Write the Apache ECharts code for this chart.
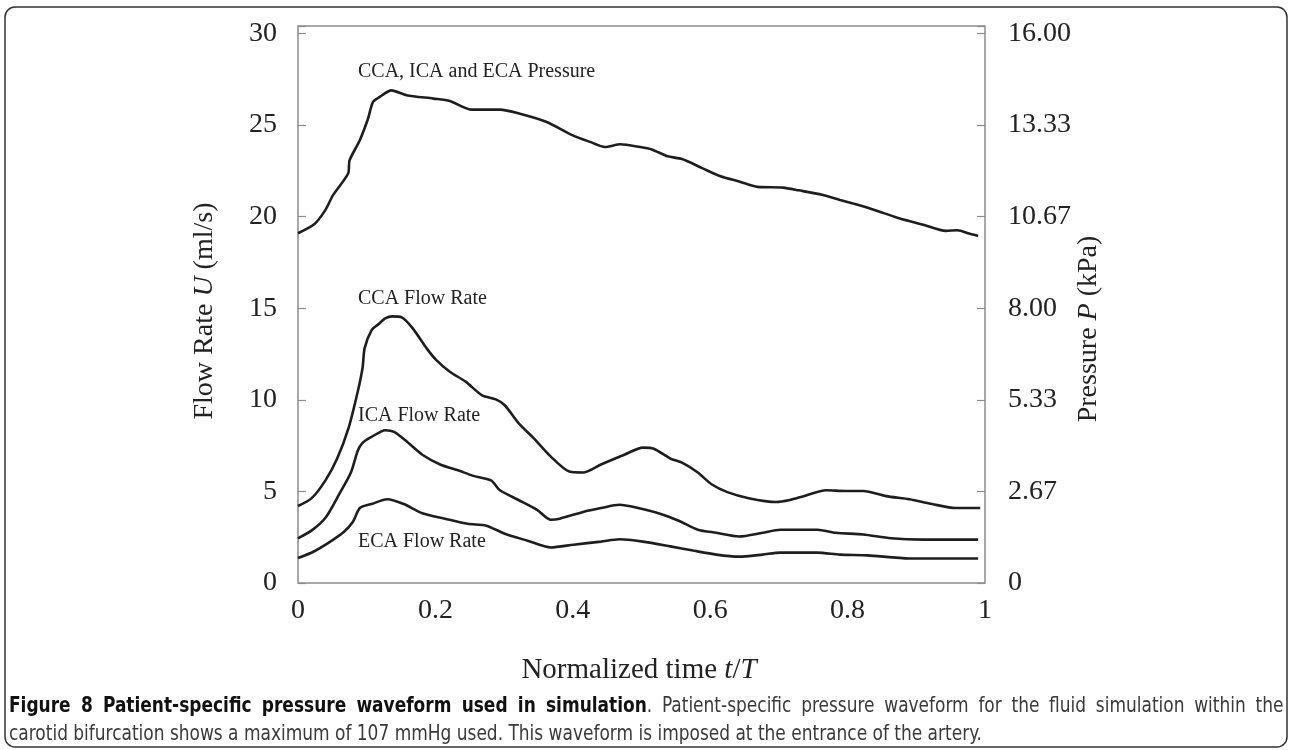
<!DOCTYPE html>
<html>
<head>
<meta charset="utf-8">
<script src="https://cdn.jsdelivr.net/npm/echarts@6/dist/echarts.min.js"></script>
<style>
  body { margin: 0; background: #fff; }
  #chart { width: 1292px; height: 750px; }
  .caption {
    position: absolute; left: 9px; width: 1416px; top: 691px;
    transform: scaleX(0.9); transform-origin: left top;
    font-family: 'Liberation Sans Narrow', 'DejaVu Sans Condensed', 'Open Sans', sans-serif;
    font-size: 21px; line-height: 28px; color: #3a3a3a;
  }
  .caption .l1 { text-align: justify; text-align-last: justify; }
  .caption b { color: #111; }
</style>
</head>
<body>
<div id="chart"></div>
<div class="caption">
  <div class="l1"><b>Figure 8 Patient-specific pressure waveform used in simulation</b>. Patient-specific pressure waveform for the fluid simulation within the</div>
  <div>carotid bifurcation shows a maximum of 107 mmHg used. This waveform is imposed at the entrance of the artery.</div>
</div>
<script>
  // normalized time t/T and values
  const timeP = [0, 0.024, 0.04, 0.051, 0.073, 0.075, 0.09, 0.102, 0.109, 0.119, 0.136, 0.158, 0.197, 0.221, 0.252, 0.294, 0.323, 0.362, 0.40, 0.425, 0.447, 0.469, 0.498, 0.515, 0.538, 0.559, 0.589, 0.615, 0.642, 0.669, 0.706, 0.729, 0.763, 0.789, 0.816, 0.839, 0.876, 0.91, 0.943, 0.96, 0.977, 0.99]
  const pressureKPa = [10.18, 10.45, 10.86, 11.29, 11.92, 12.30, 12.89, 13.52, 14.00, 14.15, 14.34, 14.20, 14.10, 14.03, 13.78, 13.78, 13.66, 13.42, 13.03, 12.84, 12.69, 12.77, 12.69, 12.62, 12.42, 12.34, 12.07, 11.84, 11.69, 11.53, 11.51, 11.43, 11.30, 11.15, 11.00, 10.86, 10.61, 10.43, 10.25, 10.27, 10.17, 10.10]

  const timeCCA = [0, 0.02, 0.04, 0.057, 0.074, 0.087, 0.094, 0.097, 0.107, 0.117, 0.127, 0.137, 0.151, 0.167, 0.187, 0.201, 0.221, 0.244, 0.268, 0.288, 0.301, 0.321, 0.344, 0.368, 0.395, 0.415, 0.441, 0.475, 0.502, 0.518, 0.542, 0.559, 0.582, 0.602, 0.625, 0.656, 0.696, 0.716, 0.736, 0.769, 0.796, 0.823, 0.856, 0.89, 0.923, 0.957, 0.993]
  const ccaFlow = [4.20, 4.63, 5.60, 6.79, 8.51, 10.45, 11.75, 12.82, 13.79, 14.12, 14.44, 14.55, 14.50, 13.90, 12.82, 12.18, 11.53, 10.99, 10.24, 10.02, 9.70, 8.73, 7.87, 6.90, 6.08, 6.03, 6.47, 7.00, 7.39, 7.33, 6.79, 6.57, 6.03, 5.39, 4.96, 4.63, 4.42, 4.53, 4.74, 5.06, 5.02, 5.02, 4.74, 4.57, 4.31, 4.09, 4.09]

  const timeICA = [0, 0.02, 0.04, 0.06, 0.077, 0.087, 0.094, 0.107, 0.127, 0.14, 0.157, 0.181, 0.207, 0.234, 0.254, 0.281, 0.294, 0.321, 0.348, 0.368, 0.381, 0.415, 0.441, 0.468, 0.495, 0.528, 0.555, 0.582, 0.609, 0.642, 0.676, 0.702, 0.756, 0.783, 0.823, 0.863, 0.91, 0.99]
  const icaFlow = [2.44, 2.87, 3.56, 4.85, 6.03, 7.22, 7.65, 7.97, 8.34, 8.25, 7.76, 7.00, 6.47, 6.14, 5.86, 5.60, 5.06, 4.53, 3.99, 3.45, 3.51, 3.88, 4.09, 4.27, 4.09, 3.77, 3.38, 2.91, 2.74, 2.54, 2.74, 2.91, 2.91, 2.74, 2.65, 2.44, 2.37, 2.37]

  const timeECA = [0, 0.023, 0.047, 0.067, 0.08, 0.09, 0.107, 0.13, 0.154, 0.181, 0.214, 0.247, 0.274, 0.301, 0.334, 0.368, 0.401, 0.441, 0.468, 0.502, 0.542, 0.575, 0.609, 0.642, 0.676, 0.702, 0.756, 0.789, 0.829, 0.89, 0.99]
  const ecaFlow = [1.36, 1.72, 2.26, 2.80, 3.34, 4.09, 4.31, 4.57, 4.31, 3.81, 3.51, 3.23, 3.13, 2.69, 2.31, 1.94, 2.09, 2.26, 2.39, 2.26, 2.00, 1.77, 1.55, 1.44, 1.55, 1.66, 1.66, 1.55, 1.51, 1.34, 1.34]

  const curveLabels = ['CCA, ICA and ECA Pressure', 'CCA Flow Rate', 'ICA Flow Rate', 'ECA Flow Rate']

  const serif = "'Liberation Serif', 'Times New Roman', serif"
  const lineColor = '#1e1e1e'
  const flowMax = 30.4
  const pressureMax = 16 * flowMax / 30

  function pairs(ts, vs) {
    return ts.map((t, i) => [t, vs[i]])
  }

  function curve(name, data, axis) {
    return {
      name: name,
      type: 'line',
      yAxisIndex: axis,
      data: data,
      smooth: 0.25,
      symbol: 'none',
      lineStyle: { color: lineColor, width: 2.6 }
    }
  }

  const myChart = echarts.init(document.getElementById('chart'))

  myChart.setOption({
    animation: false,
    backgroundColor: '#fff',
    grid: {
      left: 298, right: 307, top: 26, bottom: 167,
      show: true, borderColor: '#8c8c8c', borderWidth: 1.5
    },
    xAxis: {
      type: 'value',
      min: 0,
      max: 1,
      interval: 0.2,
      axisLine: { show: false },
      axisTick: { show: false },
      splitLine: { show: false },
      axisLabel: { margin: 14, fontFamily: serif, fontSize: 28, color: '#222' }
    },
    yAxis: [
      {
        type: 'value',
        min: 0,
        max: flowMax,
        interval: 5,
        axisLine: { show: false },
        axisTick: { show: true, inside: true, length: 8, lineStyle: { color: '#8c8c8c', width: 1.2 } },
        splitLine: { show: false },
        axisLabel: {
          margin: 21, fontFamily: serif, fontSize: 28, color: '#222',
          formatter: v => (v > 30.1 ? '' : String(v))
        }
      },
      {
        type: 'value',
        position: 'right',
        min: 0,
        max: pressureMax,
        interval: 16 / 6,
        axisLine: { show: false },
        axisTick: { show: true, inside: true, length: 8, lineStyle: { color: '#8c8c8c', width: 1.2 } },
        splitLine: { show: false },
        axisLabel: {
          margin: 23, fontFamily: serif, fontSize: 28, color: '#222',
          formatter: v => (v < 0.01 ? '0' : v > 16.05 ? '' : v.toFixed(2))
        }
      }
    ],
    graphic: [
      {
        type: 'rect', silent: true,
        shape: { x: 5, y: 7, width: 1282, height: 740, r: 10 },
        style: { fill: 'none', stroke: '#333', lineWidth: 1.5 }
      },
      {
        type: 'text', x: 205, y: 311, rotation: Math.PI / 2,
        style: {
          text: 'Flow Rate {i|U} (ml/s)', align: 'center', verticalAlign: 'middle',
          font: '28px ' + serif, fill: '#222',
          rich: { i: { fontStyle: 'italic', fontSize: 28, fontFamily: serif, fill: '#222' } }
        }
      },
      {
        type: 'text', x: 1089, y: 329, rotation: Math.PI / 2,
        style: {
          text: 'Pressure {i|P} (kPa)', align: 'center', verticalAlign: 'middle',
          font: '28px ' + serif, fill: '#222',
          rich: { i: { fontStyle: 'italic', fontSize: 28, fontFamily: serif, fill: '#222' } }
        }
      },
      {
        type: 'text', x: 639, y: 670,
        style: {
          text: 'Normalized time {i|t}/{i|T}', align: 'center', verticalAlign: 'middle',
          font: '29px ' + serif, fill: '#222',
          rich: { i: { fontStyle: 'italic', fontSize: 29, fontFamily: serif, fill: '#222' } }
        }
      },
      { type: 'text', x: 358, y: 72, style: { text: curveLabels[0], verticalAlign: 'middle', font: '20px ' + serif, fill: '#222' } },
      { type: 'text', x: 358, y: 299, style: { text: curveLabels[1], verticalAlign: 'middle', font: '20px ' + serif, fill: '#222' } },
      { type: 'text', x: 358, y: 416, style: { text: curveLabels[2], verticalAlign: 'middle', font: '20px ' + serif, fill: '#222' } },
      { type: 'text', x: 358, y: 542, style: { text: curveLabels[3], verticalAlign: 'middle', font: '20px ' + serif, fill: '#222' } }
    ],
    series: [
      curve(curveLabels[0], pairs(timeP, pressureKPa), 1),
      curve(curveLabels[1], pairs(timeCCA, ccaFlow), 0),
      curve(curveLabels[2], pairs(timeICA, icaFlow), 0),
      curve(curveLabels[3], pairs(timeECA, ecaFlow), 0)
    ]
  })
</script>
</body>
</html>
